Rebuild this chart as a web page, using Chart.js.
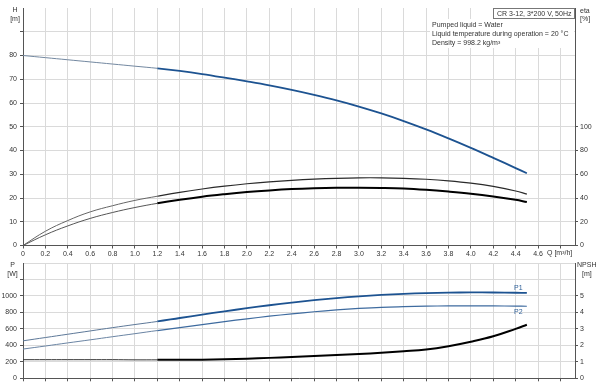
<!DOCTYPE html>
<html><head><meta charset="utf-8">
<script src="https://cdn.jsdelivr.net/npm/chart.js@4.4.1/dist/chart.umd.min.js"></script>
<style>
html,body{margin:0;padding:0;background:#fff;}
#wrap{position:relative;width:600px;height:383px;overflow:hidden;background:#fff;}
#c1{position:absolute;left:0;top:0;}
#c2{position:absolute;left:0;top:258px;}
</style></head><body>
<div id="wrap"><canvas id="c1" width="600" height="258"></canvas><canvas id="c2" width="600" height="125"></canvas></div>
<script>
// ---- data ----
const flow      = [0,0.2,0.4,0.6,0.8,1.0,1.2,1.4,1.6,1.8,2.0,2.2,2.4,2.6,2.8,3.0,3.2,3.4,3.6,3.8,4.0,4.2,4.4,4.5];
const head      = [80.0,79.1,78.2,77.3,76.4,75.5,74.6,73.5,72.2,70.7,69.1,67.4,65.5,63.4,61.1,58.5,55.6,52.4,48.9,45.1,41.1,36.9,32.6,30.4];
const etaUpper  = [0,12,21,28.3,33.5,38,41.5,44.8,47.6,50.0,52.0,53.6,54.9,55.9,56.6,57.0,57.0,56.6,55.8,54.5,52.6,49.8,45.9,43.3];
const etaLower  = [0,9,16.5,22.8,27.8,32,35.5,38.5,41.1,43.2,45.0,46.4,47.5,48.2,48.6,48.7,48.5,48.0,46.9,45.4,43.6,41.3,38.5,36.6];
const powerP1   = [455,495,535,575,615,653,690,732,773,813,851,887,920,949,974,995,1012,1025,1034,1040,1043,1042,1039,1037];
const powerP2   = [355,392,430,467,505,542,580,615,651,688,722,754,782,808,830,848,862,870,876,879,880,879,877,875];
const npsh      = [1.13,1.13,1.13,1.13,1.13,1.12,1.12,1.12,1.13,1.16,1.19,1.24,1.3,1.36,1.42,1.48,1.55,1.64,1.75,1.95,2.22,2.55,3.0,3.25];

const qTicks    = [0,0.2,0.4,0.6,0.8,1.0,1.2,1.4,1.6,1.8,2.0,2.2,2.4,2.6,2.8,3.0,3.2,3.4,3.6,3.8,4.0,4.2,4.4,4.6,4.8];
const qLabelMax = 4.6;
const hTicks    = [0,10,20,30,40,50,60,70,80,90,100];
const hLabelMax = 80;
const etaTicks  = [0,20,40,60,80,100,120,140,160,180,200];
const etaLabelMax = 100;
const pTicks    = [0,200,400,600,800,1000,1200,1400];
const pLabelMax = 1000;
const npshTicks = [0,1,2,3,4,5,6,7];
const npshLabelMax = 5;

const titleBox  = "CR 3-12, 3*200 V, 50Hz";
const infoLines = ["Pumped liquid = Water","Liquid temperature during operation = 20 °C","Density = 998.2 kg/m³"];

// ---- styling ----
const FONT = "'Liberation Sans', Arial, sans-serif";
const tickFont = {family: FONT, size: 7};
const TXT = '#333';
const GRID = '#dadada';
const AXIS = '#555';
const THIN_END = 1.19;

function pts(arr){ return flow.map((q,i)=>({x:q, y:arr[i]})); }
function seg(thinC, thickC, thinW, thickW){
  return {
    borderColor: c => c.p0.parsed.x < THIN_END ? thinC : thickC,
    borderWidth: c => c.p0.parsed.x < THIN_END ? thinW : thickW
  };
}
function ds(label, arr, axis, thinC, thickC, thinW, thickW){
  return {label, data: pts(arr), yAxisID: axis, borderColor: thickC, borderWidth: thickW,
    pointRadius: 0, tension: 0.4, fill: false, segment: seg(thinC, thickC, thinW, thickW)};
}
function fixedTicks(list){ return s => { s.ticks = list.map(v=>({value:v})); }; }
function fmtQ(v){ if (v > qLabelMax + 1e-6) return ''; return v === 0 ? '0' : v.toFixed(1); }

function xScale(showLabels, h){
  return {
    type:'linear', position:'bottom', min:0, max:4.93,
    afterBuildTicks: fixedTicks(qTicks),
    ticks:{display: showLabels, callback: v => fmtQ(v), autoSkip:false, maxRotation:0, font: tickFont, color: TXT, padding: 1},
    grid:{color: GRID, lineWidth:1, tickColor: AXIS, tickLength: 3},
    border:{color: AXIS, width:1},
    afterFit: s => { s.height = h; s.paddingLeft = 0; s.paddingRight = 0; }
  };
}
function yScale(pos, min, max, list, labelMax, drawGrid, hideTop){
  return {
    type:'linear', position: pos, min, max,
    afterBuildTicks: fixedTicks(list),
    ticks:{callback: v => v <= labelMax ? String(v) : '', autoSkip:false, font: tickFont, color: TXT, padding: pos==='left'?3:2},
    grid:{drawOnChartArea: drawGrid,
      color: c => (hideTop && c.tick && c.tick.value === max) ? 'rgba(0,0,0,0)' : GRID,
      tickColor: c => (c.tick && c.tick.value <= labelMax + (pos==='left'? (list[1]-list[0]) : 0)) ? AXIS : 'rgba(0,0,0,0)',
      tickLength: 3},
    border:{color: AXIS, width:1},
    afterFit: s => { s.width = pos==='left' ? 23 : 25; s.paddingTop = 0; s.paddingBottom = 0; }
  };
}

function text(ctx, str, x, y, align, color){
  ctx.save(); ctx.font = '7px ' + FONT; ctx.fillStyle = color || TXT;
  ctx.textAlign = align || 'left'; ctx.textBaseline = 'middle'; ctx.fillText(str, x, y); ctx.restore();
}

const topDecor = {
  id:'topDecor',
  afterDraw(chart){
    const ctx = chart.ctx;
    text(ctx, 'H', 15, 10, 'center');
    text(ctx, '[m]', 15, 19.5, 'center');
    text(ctx, 'eta', 580, 11, 'left');
    text(ctx, '[%]', 580, 19.5, 'left');
    text(ctx, 'Q [m³/h]', 547, 253, 'left');
    // info text block
    ctx.save(); ctx.fillStyle = '#fff'; ctx.fillRect(430, 19, 144, 29); ctx.restore();
    text(ctx, infoLines[0], 432, 25.5, 'left');
    text(ctx, infoLines[1], 432, 34.3, 'left');
    text(ctx, infoLines[2], 432, 42.8, 'left');
    // boxed title
    ctx.save(); ctx.fillStyle = '#fff'; ctx.fillRect(493.5, 8.5, 81, 10);
    ctx.strokeStyle = '#777'; ctx.lineWidth = 1; ctx.strokeRect(493.5, 8.5, 81, 10); ctx.restore();
    text(ctx, titleBox, 497, 13.6, 'left');
  }
};
const botDecor = {
  id:'botDecor',
  afterDraw(chart){
    const ctx = chart.ctx;
    text(ctx, 'P', 12.5, 7, 'center');
    text(ctx, '[W]', 12.5, 16.5, 'center');
    text(ctx, 'NPSH', 577, 7, 'left');
    text(ctx, '[m]', 582, 16, 'left');
    text(ctx, 'P1', 514, 30, 'left', '#2d5f98');
    text(ctx, 'P2', 514, 54, 'left', '#2d5f98');
  }
};

Chart.defaults.font.family = FONT;

new Chart(document.getElementById('c1'), {
  type:'line',
  data:{datasets:[
    ds('H', head, 'y', '#7388a0', '#1d5391', 1, 1.8),
    ds('eta upper', etaUpper, 'y2', '#666', '#2a2a2a', 1, 1.2),
    ds('eta lower', etaLower, 'y2', '#555', '#000', 1, 2)
  ]},
  options:{
    responsive:false, animation:false, devicePixelRatio:1,
    layout:{padding:{top:8, left:0, right:0, bottom:0}},
    plugins:{legend:{display:false}, tooltip:{enabled:false}},
    scales:{
      x: xScale(true, 12.5),
      y: yScale('left', 0, 100, hTicks, hLabelMax, true, true),
      y2: yScale('right', 0, 200, etaTicks, etaLabelMax, false, true)
    }
  },
  plugins:[topDecor]
});

new Chart(document.getElementById('c2'), {
  type:'line',
  data:{datasets:[
    ds('P1', powerP1, 'y', '#5d7898', '#1d5391', 1, 1.8),
    ds('P2', powerP2, 'y', '#6a84a3', '#3e6b9f', 1, 1.2),
    ds('NPSH', npsh, 'y2', '#333', '#000', 1, 2)
  ]},
  options:{
    responsive:false, animation:false, devicePixelRatio:1,
    layout:{padding:{top:5, left:0, right:0, bottom:0}},
    plugins:{legend:{display:false}, tooltip:{enabled:false}},
    scales:{
      x: xScale(false, 4.7),
      y: yScale('left', 0, 1400, pTicks, pLabelMax, true, false),
      y2: yScale('right', 0, 7, npshTicks, npshLabelMax, false, false)
    }
  },
  plugins:[botDecor]
});
</script></body></html>
